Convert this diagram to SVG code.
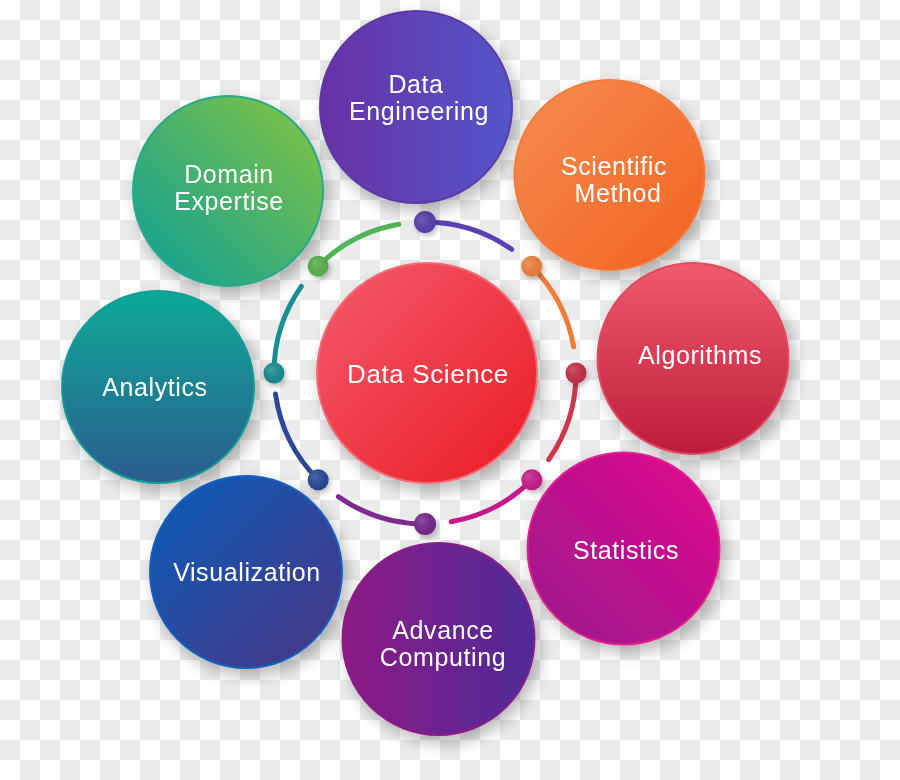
<svg xmlns="http://www.w3.org/2000/svg" width="900" height="780" viewBox="0 0 900 780">
<defs>
  <pattern id="checker" width="40" height="40" patternUnits="userSpaceOnUse">
    <rect width="40" height="40" fill="#ffffff"/>
    <rect x="20" y="0" width="20" height="20" fill="#ebebeb"/>
    <rect x="0" y="20" width="20" height="20" fill="#ebebeb"/>
  </pattern>
  <filter id="shadow" x="-30%" y="-30%" width="160%" height="160%">
    <feDropShadow dx="5" dy="7" stdDeviation="8" flood-color="#000" flood-opacity="0.28"/>
  </filter>
  <filter id="dshadow" x="-50%" y="-50%" width="200%" height="200%">
    <feDropShadow dx="2" dy="3" stdDeviation="2.5" flood-color="#000" flood-opacity="0.25"/>
  </filter>
  <linearGradient id="gDE" x1="0" y1="0" x2="1" y2="0"><stop offset="0" stop-color="#6832a5"/><stop offset="1" stop-color="#5455c9"/></linearGradient>
  <linearGradient id="gDOM" x1="1" y1="0" x2="0" y2="1"><stop offset="0" stop-color="#86c640"/><stop offset="1" stop-color="#0a9e98"/></linearGradient>
  <linearGradient id="gSCI" x1="0" y1="0" x2="1" y2="1"><stop offset="0" stop-color="#f68c50"/><stop offset="1" stop-color="#f26320"/></linearGradient>
  <linearGradient id="gALG" x1="0" y1="0" x2="0" y2="1"><stop offset="0" stop-color="#f05a6e"/><stop offset="1" stop-color="#bd1d3a"/></linearGradient>
  <linearGradient id="gANA" x1="0" y1="0" x2="0" y2="1"><stop offset="0" stop-color="#0eaa98"/><stop offset="1" stop-color="#2b5c8e"/></linearGradient>
  <linearGradient id="gSTA" x1="1" y1="0" x2="0" y2="1"><stop offset="0" stop-color="#e2058e"/><stop offset="1" stop-color="#981c8c"/></linearGradient>
  <linearGradient id="gVIS" x1="0" y1="0" x2="1" y2="1"><stop offset="0" stop-color="#0a5ebb"/><stop offset="1" stop-color="#4b3482"/></linearGradient>
  <linearGradient id="gADV" x1="0" y1="0" x2="1" y2="0"><stop offset="0" stop-color="#8d1b85"/><stop offset="1" stop-color="#4d2b97"/></linearGradient>
  <linearGradient id="gDS" x1="0" y1="0" x2="1" y2="1"><stop offset="0" stop-color="#f45b6e"/><stop offset="1" stop-color="#ea1b22"/></linearGradient>
  <radialGradient id="dotShade" cx="0.35" cy="0.35" r="0.7"><stop offset="0" stop-color="#fff" stop-opacity="0.18"/><stop offset="1" stop-color="#000" stop-opacity="0.05"/></radialGradient>
  <style>
    .node { filter: url(#shadow); }
    .lbl { font-family: "Liberation Sans", Arial, sans-serif; font-size: 25px; fill: #ffffff; text-anchor: middle; letter-spacing: 0.6px; }
    .arc { fill: none; stroke-width: 5; stroke-linecap: round; }
    .dot { filter: url(#dshadow); }
  </style>
</defs>

<rect width="900" height="780" fill="url(#checker)"/>

<g id="connectors">
  <path class="arc" d="M425,222 A151,151 0 0 1 511.6,249.3" stroke="#5a40b5"/>
  <path class="arc" d="M531.8,266.2 A151,151 0 0 1 573.7,346.8" stroke="#f07c38"/>
  <path class="arc" d="M576,373 A151,151 0 0 1 548.7,459.6" stroke="#d0354e"/>
  <path class="arc" d="M531.8,479.8 A151,151 0 0 1 451.2,521.7" stroke="#c8168c"/>
  <path class="arc" d="M425,524 A151,151 0 0 1 338.4,496.7" stroke="#7a2a90"/>
  <path class="arc" d="M318.2,479.8 A151,151 0 0 1 275.5,394" stroke="#2a4896"/>
  <path class="arc" d="M274,373 A151,151 0 0 1 301.3,286.4" stroke="#178f93"/>
  <path class="arc" d="M318.2,266.2 A151,151 0 0 1 398.8,224.3" stroke="#4fb556"/>
  <g class="dot">
    <circle cx="425" cy="222" r="11" fill="#5a3fb2"/>
    <circle cx="531.8" cy="266.2" r="10.5" fill="#f07f3c"/>
    <circle cx="576" cy="373" r="10.5" fill="#c72f48"/>
    <circle cx="531.8" cy="479.8" r="10.5" fill="#c81a8a"/>
    <circle cx="425" cy="524" r="11" fill="#76288f"/>
    <circle cx="318.2" cy="479.8" r="10.5" fill="#254a9a"/>
    <circle cx="274" cy="373" r="10.5" fill="#178f93"/>
    <circle cx="318.2" cy="266.2" r="10.5" fill="#5ab550"/>
  </g>
  <g>
    <circle cx="425" cy="222" r="11" fill="url(#dotShade)"/>
    <circle cx="531.8" cy="266.2" r="10.5" fill="url(#dotShade)"/>
    <circle cx="576" cy="373" r="10.5" fill="url(#dotShade)"/>
    <circle cx="531.8" cy="479.8" r="10.5" fill="url(#dotShade)"/>
    <circle cx="425" cy="524" r="11" fill="url(#dotShade)"/>
    <circle cx="318.2" cy="479.8" r="10.5" fill="url(#dotShade)"/>
    <circle cx="274" cy="373" r="10.5" fill="url(#dotShade)"/>
    <circle cx="318.2" cy="266.2" r="10.5" fill="url(#dotShade)"/>
  </g>
</g>

<g id="data-science" class="node">
  <circle cx="427" cy="373" r="110" fill="url(#gDS)" stroke="#f26a72" stroke-width="2"/>
  <text class="lbl" x="428" y="383" style="font-size:26px">Data Science</text>
</g>

<g id="data-engineering" class="node">
  <circle cx="416" cy="107" r="96" fill="url(#gDE)" stroke="#5b3aa8" stroke-width="2"/>
  <text class="lbl" x="416" y="93">Data</text>
  <text class="lbl" x="419" y="120">Engineering</text>
</g>

<g id="domain-expertise" class="node">
  <circle cx="228" cy="191" r="95" fill="url(#gDOM)" stroke="#2aa88a" stroke-width="2"/>
  <text class="lbl" x="229" y="183">Domain</text>
  <text class="lbl" x="229" y="210">Expertise</text>
</g>

<g id="scientific-method" class="node">
  <circle cx="609.5" cy="175" r="95" fill="url(#gSCI)" stroke="#f47a3a" stroke-width="2"/>
  <text class="lbl" x="614" y="175">Scientific</text>
  <text class="lbl" x="618" y="202">Method</text>
</g>

<g id="algorithms" class="node">
  <circle cx="693" cy="358.5" r="95.5" fill="url(#gALG)" stroke="#e04a60" stroke-width="2"/>
  <text class="lbl" x="700" y="364">Algorithms</text>
</g>

<g id="analytics" class="node">
  <circle cx="158" cy="387" r="96" fill="url(#gANA)" stroke="#139c98" stroke-width="2"/>
  <text class="lbl" x="155" y="396">Analytics</text>
</g>

<g id="statistics" class="node">
  <circle cx="623.5" cy="548.5" r="96" fill="url(#gSTA)" stroke="#e0208e" stroke-width="2"/>
  <text class="lbl" x="626" y="559">Statistics</text>
</g>

<g id="visualization" class="node">
  <circle cx="246" cy="572" r="96" fill="url(#gVIS)" stroke="#1560c0" stroke-width="2"/>
  <text class="lbl" x="247" y="581">Visualization</text>
</g>

<g id="advance-computing" class="node">
  <circle cx="438.5" cy="639" r="96" fill="url(#gADV)" stroke="#8a1e88" stroke-width="2"/>
  <text class="lbl" x="443" y="639">Advance</text>
  <text class="lbl" x="443" y="666">Computing</text>
</g>
</svg>
